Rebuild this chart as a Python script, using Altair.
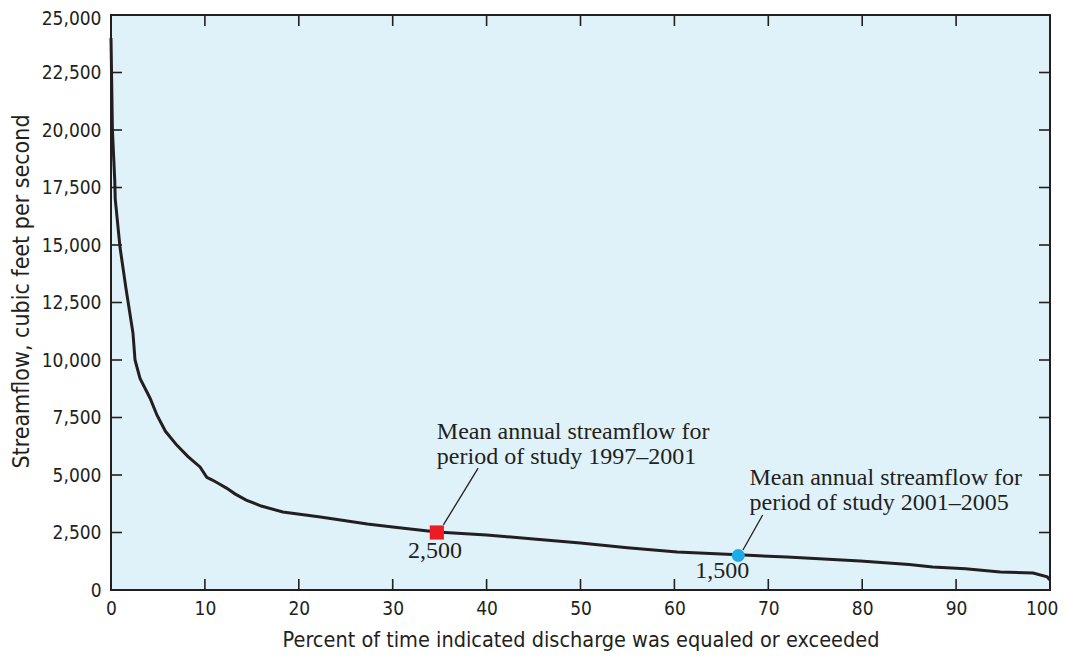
import altair as alt
import pandas as pd

# ---- data ----
pct = [0, 0.15, 0.4, 0.45, 0.96, 1.6, 2.34, 2.56, 3.09, 4.15, 4.9, 5.8, 7.0, 8.2,
       9.48, 10.2, 10.8, 11.5, 12.3, 13.2, 14.4, 16.0, 18.3, 22.3, 27.3, 30.0,
       34.7, 40, 45, 50, 55, 60.3, 66.8, 72, 79.8, 85, 87.5, 91, 94.7, 98.2,
       99.7, 100]
flow = [24000, 20000, 17800, 17000, 14900, 13100, 11170, 10000, 9200, 8350, 7600,
        6900, 6300, 5800, 5350, 4900, 4780, 4620, 4430, 4180, 3910, 3650, 3390,
        3170, 2870, 2740, 2520, 2390, 2220, 2040, 1840, 1650, 1530, 1430, 1260,
        1110, 1000, 920, 780, 740, 570, 440]

x_tick_values = [10, 20, 30, 40, 50, 60, 70, 80, 90]
y_tick_values = [2500, 5000, 7500, 10000, 12500, 15000, 17500, 20000, 22500]

marker_pct = [34.7, 66.8]
marker_flow = [2500, 1500]
marker_label = ["2,500", "1,500"]
label_pct = [34.5, 65.1]
label_flow = [1390, 520]

note_text = ["Mean annual streamflow for\nperiod of study 1997\u20132001",
             "Mean annual streamflow for\nperiod of study 2001\u20132005"]
note_pct = [34.7, 68.0]
note_flow = [6560, 4560]

leader_x = [39.1, 69.4]
leader_y = [5300, 3260]
leader_x2 = [35.4, 67.3]
leader_y2 = [2830, 1740]

INK = "#231f20"
SANS = "Liberation Sans Narrow, DejaVu Sans Condensed, Liberation Sans, sans-serif"
SERIF = "Liberation Serif, DejaVu Serif, serif"
W, H = 939, 575
TICK = 11

curve_df = pd.DataFrame({"pct": pct, "flow": flow})
xt_df = pd.DataFrame({"v": x_tick_values})
yt_df = pd.DataFrame({"v": y_tick_values})
red_df = pd.DataFrame({"pct": marker_pct[:1], "flow": marker_flow[:1]})
blue_df = pd.DataFrame({"pct": marker_pct[1:], "flow": marker_flow[1:]})
lab_df = pd.DataFrame({"pct": label_pct, "flow": label_flow, "t": marker_label})
note_df = pd.DataFrame({"pct": note_pct, "flow": note_flow, "t": note_text})
lead_df = pd.DataFrame({"x": leader_x, "y": leader_y, "x2": leader_x2, "y2": leader_y2})

xs = alt.Scale(domain=[0, 100], nice=False, zero=False)
ys = alt.Scale(domain=[0, 25000], nice=False, zero=False)

xax = alt.Axis(values=list(range(0, 101, 10)), ticks=False, domain=False, grid=False,
               labelFont=SANS, labelFontSize=19, labelColor=INK, labelPadding=9,
               labelFlush=False,
               labelAlign={"expr": "datum.value == 100 ? 'right' : 'center'"},
               labelOffset={"expr": "datum.value == 100 ? 8 : 0"},
               title="Percent of time indicated discharge was equaled or exceeded",
               titleFont=SANS, titleFontSize=21.5, titleFontWeight="normal",
               titleColor=INK, titlePadding=11)
yax = alt.Axis(values=list(range(0, 25001, 2500)), format=",d", ticks=False,
               domain=False, grid=False, labelFont=SANS, labelFontSize=19,
               labelColor=INK, labelPadding=10, labelFlush=False,
               labelOffset={"expr": "datum.value == 25000 ? 3 : 0"},
               title="Streamflow, cubic feet per second", titleFont=SANS,
               titleFontSize=23, titleFontWeight="normal", titleColor=INK,
               titlePadding=8, titleY=276)

curve = alt.Chart(curve_df).mark_line(color=INK, strokeWidth=3).encode(
    x=alt.X("pct:Q", scale=xs, axis=xax),
    y=alt.Y("flow:Q", scale=ys, axis=yax),
)

tick_style = dict(color=INK, strokeWidth=1.6)
bottom_ticks = alt.Chart(xt_df).mark_rule(**tick_style).encode(
    x=alt.X("v:Q", scale=xs), y=alt.value(H), y2=alt.value(H - TICK))
top_ticks = alt.Chart(xt_df).mark_rule(**tick_style).encode(
    x=alt.X("v:Q", scale=xs), y=alt.value(0), y2=alt.value(TICK))
left_ticks = alt.Chart(yt_df).mark_rule(**tick_style).encode(
    y=alt.Y("v:Q", scale=ys), x=alt.value(0), x2=alt.value(TICK))
right_ticks = alt.Chart(yt_df).mark_rule(**tick_style).encode(
    y=alt.Y("v:Q", scale=ys), x=alt.value(W), x2=alt.value(W - TICK))

leaders = alt.Chart(lead_df).mark_rule(color=INK, strokeWidth=1.3).encode(
    x=alt.X("x:Q", scale=xs), y=alt.Y("y:Q", scale=ys),
    x2="x2:Q", y2="y2:Q")

red = alt.Chart(red_df).mark_square(size=200, color="#ed1c24", opacity=1).encode(
    x=alt.X("pct:Q", scale=xs), y=alt.Y("flow:Q", scale=ys))
blue = alt.Chart(blue_df).mark_circle(size=170, color="#1aace8", opacity=1).encode(
    x=alt.X("pct:Q", scale=xs), y=alt.Y("flow:Q", scale=ys))

labels = alt.Chart(lab_df).mark_text(font=SERIF, fontSize=24, color=INK,
                                     align="center", baseline="alphabetic").encode(
    x=alt.X("pct:Q", scale=xs), y=alt.Y("flow:Q", scale=ys), text="t:N")

notes = alt.Chart(note_df).mark_text(font=SERIF, fontSize=24, color=INK,
                                     align="left", baseline="alphabetic",
                                     lineBreak="\n", lineHeight=25).encode(
    x=alt.X("pct:Q", scale=xs), y=alt.Y("flow:Q", scale=ys), text="t:N")

chart = alt.layer(
    curve, bottom_ticks, top_ticks, left_ticks, right_ticks,
    leaders, red, blue, labels, notes
).properties(
    width=W, height=H,
    autosize=alt.AutoSizeParams(type="none"),
    padding={"left": 103, "top": 7, "right": 9, "bottom": 61},
).configure_view(
    fill="#dff2fa", stroke=INK, strokeWidth=2
)

chart.save("out.html", embed_options={"renderer": "svg", "actions": False})
